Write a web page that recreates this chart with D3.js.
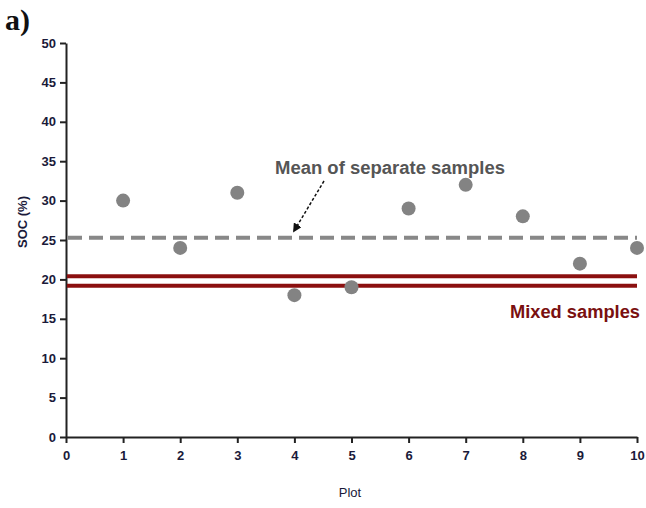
<!DOCTYPE html>
<html><head><meta charset="utf-8">
<script src="https://cdnjs.cloudflare.com/ajax/libs/d3/7.8.5/d3.min.js"></script>
<style>
body{margin:0;background:#fff;}
svg{display:block;}
.tk text{font-family:"Liberation Sans Narrow","Arial Narrow","Liberation Sans",Arial,sans-serif;font-weight:bold;font-size:13px;fill:#1a1a3a;}
</style></head><body>
<script>
const plots = [1,2,3,4,5,6,7,8,9,10];
const soc = [30,24,31,18,19,29,32,28,22,24];
const meanSeparate = 25.3;
const mixedSamples = [20.4,19.2];
const xTicks = [0,1,2,3,4,5,6,7,8,9,10];
const yTicks = [0,5,10,15,20,25,30,35,40,45,50];

const W=646,H=508;
const svg=d3.select("body").append("svg").attr("width",W).attr("height",H);
const x=d3.scaleLinear().domain([0,10]).range([66,637]);
const y=d3.scaleLinear().domain([0,50]).range([437,43]);

const ya=svg.append("g").attr("class","tk").attr("transform","translate(66,0)")
  .call(d3.axisLeft(y).tickValues(yTicks).tickSize(6).tickPadding(4).tickSizeOuter(0));
const xa=svg.append("g").attr("class","tk").attr("transform","translate(0,437)")
  .call(d3.axisBottom(x).tickValues(xTicks).tickSize(6).tickPadding(8).tickSizeOuter(0));
[ya,xa].forEach(g=>{g.select(".domain").attr("stroke","#222").attr("stroke-width",2);
  g.selectAll(".tick line").attr("stroke","#222").attr("stroke-width",2);});

svg.append("line").attr("x1",x(0)+2).attr("x2",x(10)).attr("y1",y(meanSeparate)).attr("y2",y(meanSeparate))
  .attr("stroke","#888").attr("stroke-width",4).attr("stroke-dasharray","14,7");
svg.selectAll(".mix").data(mixedSamples).enter().append("line")
  .attr("x1",x(0)+1).attr("x2",x(10)).attr("y1",d=>y(d)).attr("y2",d=>y(d))
  .attr("stroke","#8b1010").attr("stroke-width",4);

svg.selectAll(".pt").data(plots).enter().append("circle")
  .attr("cx",d=>x(d)).attr("cy",(d,i)=>y(soc[i])).attr("r",7).attr("fill","#838383");

const defs=svg.append("defs");
defs.append("marker").attr("id","ah").attr("viewBox","0 0 10 10").attr("refX",8).attr("refY",5)
  .attr("markerWidth",6).attr("markerHeight",6).attr("orient","auto")
  .append("path").attr("d","M0,0L10,5L0,10z").attr("fill","#111");
svg.append("line").attr("x1",324).attr("y1",181).attr("x2",294).attr("y2",231)
  .attr("stroke","#111").attr("stroke-width",1.5).attr("stroke-dasharray","3,2").attr("marker-end","url(#ah)");

const fnt='"Liberation Sans Narrow","Arial Narrow","Liberation Sans",Arial,sans-serif';
svg.append("text").attr("x",390).attr("y",174).attr("text-anchor","middle")
  .attr("font-family",fnt).attr("font-weight","bold").attr("font-size",18).attr("fill","#555")
  .attr("textLength",230).attr("lengthAdjust","spacingAndGlyphs")
  .text("Mean of separate samples");
svg.append("text").attr("x",640).attr("y",318).attr("text-anchor","end")
  .attr("font-family",fnt).attr("font-weight","bold").attr("font-size",18).attr("fill","#7a1010")
  .attr("textLength",130).attr("lengthAdjust","spacingAndGlyphs")
  .text("Mixed samples");

svg.append("text").attr("x",5).attr("y",30)
  .attr("font-family","Liberation Serif,Times New Roman,serif").attr("font-weight","bold").attr("font-size",30).attr("fill","#111")
  .text("a)");
svg.append("text").attr("transform","translate(27,222) rotate(-90)").attr("text-anchor","middle")
  .attr("font-family",fnt).attr("font-weight","bold").attr("font-size",13).attr("fill","#1a1a3a")
  .text("SOC (%)");
svg.append("text").attr("x",350).attr("y",497).attr("text-anchor","middle")
  .attr("font-family",fnt).attr("font-size",13).attr("fill","#1a1a3a")
  .text("Plot");
</script></body></html>
